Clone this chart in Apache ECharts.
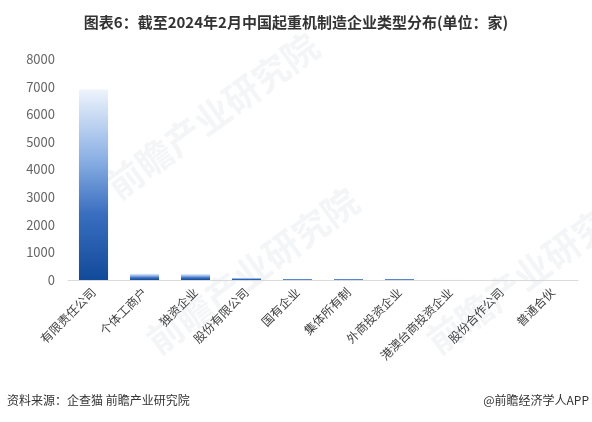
<!DOCTYPE html>
<html><head><meta charset="utf-8">
<script src="https://cdn.jsdelivr.net/npm/echarts@6/dist/echarts.min.js"></script>
<style>html,body{margin:0;padding:0;background:#fff}#c{width:592px;height:422px}</style>
</head><body><div id="c"></div>
<script>
var categories = ['有限责任公司','个体工商户','独资企业','股份有限公司','国有企业','集体所有制','外商投资企业','港澳台商投资企业','股份合作公司','普通合伙'];
var values = [6900, 230, 220, 80, 40, 40, 40, 5, 3, 2];
var yTicks = [0,1000,2000,3000,4000,5000,6000,7000,8000];

var chart = echarts.init(document.getElementById('c'), null, {renderer:'canvas'});
var font = '"Noto Sans CJK SC", "Noto Sans", sans-serif';
var wm = 'rgba(200,206,214,0.2)';
chart.setOption({
  backgroundColor:'#fff',
  animation:false,
  title:{text:'图表6：截至2024年2月中国起重机制造企业类型分布(单位：家)', left:'center', top:10,
    textStyle:{fontSize:15, fontWeight:'bold', color:'#333', fontFamily:font}},
  grid:{left:68, right:14, top:59, bottom:142, containLabel:false},
  xAxis:{type:'category', data:categories,
    axisLine:{lineStyle:{color:'#d9d9d9'}}, axisTick:{show:false},
    axisLabel:{rotate:45, interval:0, fontSize:12, color:'#404040', fontFamily:font, margin:10}},
  yAxis:{type:'value', min:yTicks[0], max:yTicks[yTicks.length-1], interval:1000,
    axisLine:{show:false}, axisTick:{show:false}, splitLine:{show:false},
    axisLabel:{fontSize:13, color:'#666', fontFamily:font, margin:13, formatter:function(v){return String(v);}}},
  series:[{type:'bar', data:values, barWidth:'57%',
    itemStyle:{color:new echarts.graphic.LinearGradient(0,0,0,1,[
      {offset:0,color:'#eef4fc'},{offset:0.35,color:'#8fb3e6'},{offset:0.65,color:'#3a6fc0'},{offset:1,color:'#124a9a'}])}}],
  graphic:[
    {type:'text', left:7, top:394, style:{text:'资料来源：企查猫 前瞻产业研究院', fontSize:12, fill:'#333', fontFamily:font}},
    {type:'text', right:3, top:394, style:{text:'@前瞻经济学人APP', fontSize:12, fill:'#333', fontFamily:font}},
    {type:'text', x:100, y:175, rotation:Math.PI/5, style:{text:'前瞻产业研究院', fontSize:36, fontWeight:'bold', fill:wm, fontFamily:font}},
    {type:'text', x:140, y:330, rotation:Math.PI/5, style:{text:'前瞻产业研究院', fontSize:36, fontWeight:'bold', fill:wm, fontFamily:font}},
    {type:'text', x:420, y:330, rotation:Math.PI/5, style:{text:'前瞻产业研究院', fontSize:36, fontWeight:'bold', fill:wm, fontFamily:font}}
  ]
});
</script></body></html>
